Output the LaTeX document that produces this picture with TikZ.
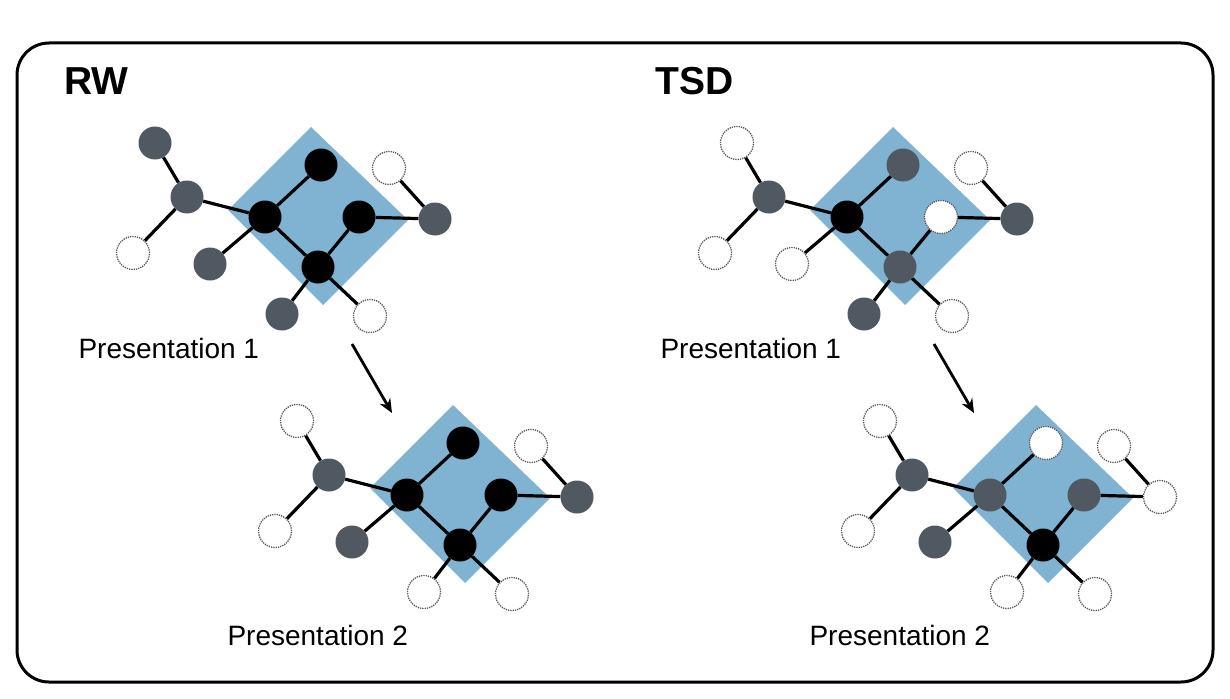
\documentclass[tikz,border=0pt]{standalone}
\usepackage{fontspec}
\setmainfont{Liberation Sans}
\usetikzlibrary{arrows.meta}

\definecolor{diamblue}{RGB}{127,179,209}
\definecolor{nodegray}{RGB}{80,88,97}

\begin{document}
\begin{tikzpicture}[x=1pt,y=-1pt,
    atom/.style={circle,minimum size=33pt,inner sep=0pt},
    blk/.style={atom,fill=black},
    gry/.style={atom,fill=nodegray},
    wht/.style={atom,fill=white,draw=gray!70!black,densely dotted,line width=1.3pt},
    bond/.style={line width=3.2pt},
    title/.style={anchor=base west,font=\fontsize{39}{44}\selectfont\bfseries},
    caption/.style={anchor=base west,font=\fontsize{28}{34}\selectfont}]
  \useasboundingbox (0,0) rectangle (1230,698);

  % Frame
  \draw[line width=3pt,rounded corners=32pt] (17,43) rectangle (1213,682);

  \node[title] (rw) at (61,95) {RW};
  \node[title] (tsd) at (652,95) {TSD};

  % RW, presentation 1
  \begin{scope}[name prefix=rwa-]
    \fill[diamblue] (311,127) -- (408,220) -- (323,305) -- (228,210) -- cycle;
    \node[gry] (A) at (155,143) {};
    \node[gry] (B) at (187,197) {};
    \node[wht] (C) at (133,253) {};
    \node[blk] (D) at (265,217) {};
    \node[gry] (E) at (210,264) {};
    \node[blk] (F) at (321,165) {};
    \node[blk] (G) at (359,217) {};
    \node[blk] (H) at (318,267) {};
    \node[gry] (I) at (282,314) {};
    \node[wht] (J) at (370,316) {};
    \node[wht] (K) at (389,168) {};
    \node[gry] (L) at (435,219) {};
    \foreach \u/\v in {A/B,B/C,B/D,D/E,D/F,D/H,H/G,G/L,L/K,H/I,H/J}
      \draw[bond] (\u) -- (\v);
  \end{scope}

  % RW, presentation 2
  \begin{scope}[shift={(142,278)},name prefix=rwb-]
    \fill[diamblue] (311,127) -- (408,220) -- (323,305) -- (228,210) -- cycle;
    \node[wht] (A) at (155,143) {};
    \node[gry] (B) at (187,197) {};
    \node[wht] (C) at (133,253) {};
    \node[blk] (D) at (265,217) {};
    \node[gry] (E) at (210,264) {};
    \node[blk] (F) at (321,165) {};
    \node[blk] (G) at (359,217) {};
    \node[blk] (H) at (318,267) {};
    \node[wht] (I) at (282,314) {};
    \node[wht] (J) at (370,316) {};
    \node[wht] (K) at (389,168) {};
    \node[gry] (L) at (435,219) {};
    \foreach \u/\v in {A/B,B/C,B/D,D/E,D/F,D/H,H/G,G/L,L/K,H/I,H/J}
      \draw[bond] (\u) -- (\v);
  \end{scope}

  % TSD, presentation 1
  \begin{scope}[shift={(582,0)},name prefix=tsda-]
    \fill[diamblue] (311,127) -- (408,220) -- (323,305) -- (228,210) -- cycle;
    \node[wht] (A) at (155,143) {};
    \node[gry] (B) at (187,197) {};
    \node[wht] (C) at (133,253) {};
    \node[blk] (D) at (265,217) {};
    \node[wht] (E) at (210,264) {};
    \node[gry] (F) at (321,165) {};
    \node[wht] (G) at (359,217) {};
    \node[gry] (H) at (318,267) {};
    \node[gry] (I) at (282,314) {};
    \node[wht] (J) at (370,316) {};
    \node[wht] (K) at (389,168) {};
    \node[gry] (L) at (435,219) {};
    \foreach \u/\v in {A/B,B/C,B/D,D/E,D/F,D/H,H/G,G/L,L/K,H/I,H/J}
      \draw[bond] (\u) -- (\v);
  \end{scope}

  % TSD, presentation 2
  \begin{scope}[shift={(725,278)},name prefix=tsdb-]
    \fill[diamblue] (311,127) -- (408,220) -- (323,305) -- (228,210) -- cycle;
    \node[wht] (A) at (155,143) {};
    \node[gry] (B) at (187,197) {};
    \node[wht] (C) at (133,253) {};
    \node[gry] (D) at (265,217) {};
    \node[gry] (E) at (210,264) {};
    \node[wht] (F) at (321,165) {};
    \node[gry] (G) at (359,217) {};
    \node[blk] (H) at (318,267) {};
    \node[wht] (I) at (282,314) {};
    \node[wht] (J) at (370,316) {};
    \node[wht] (K) at (389,168) {};
    \node[wht] (L) at (435,219) {};
    \foreach \u/\v in {A/B,B/C,B/D,D/E,D/F,D/H,H/G,G/L,L/K,H/I,H/J}
      \draw[bond] (\u) -- (\v);
  \end{scope}

  \node[caption] (rw1) at (75,358) {Presentation 1};
  \node[caption] (rw2) at (224,645) {Presentation 2};
  \node[caption] (tsd1) at (657,358) {Presentation 1};
  \node[caption] (tsd2) at (806,645) {Presentation 2};

  % Arrows
  \coordinate (rwfrom) at (352,344);
  \coordinate (rwto) at (392,413);
  \coordinate (tsdfrom) at (934,344);
  \coordinate (tsdto) at (974,413);
  \draw[line width=2.8pt,-{Stealth[length=14pt,width=12pt]}] (rwfrom) -- (rwto);
  \draw[line width=2.8pt,-{Stealth[length=14pt,width=12pt]}] (tsdfrom) -- (tsdto);
\end{tikzpicture}
\end{document}
